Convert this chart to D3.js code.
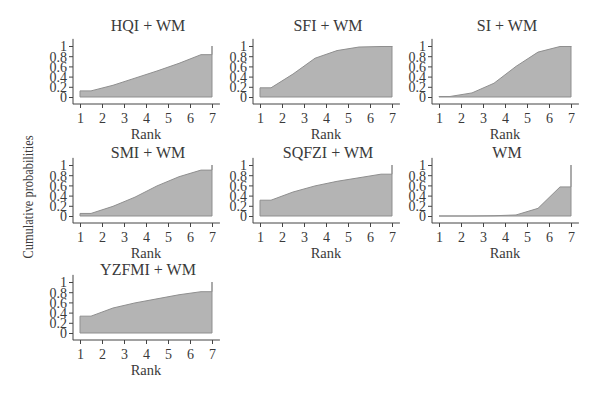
<!DOCTYPE html>
<html>
<head>
<meta charset="utf-8">
<script src="https://cdn.jsdelivr.net/npm/d3@7"></script>
<style>
  body { margin: 0; background: #fff; }
  svg text { font-family: "Liberation Serif", "DejaVu Serif", serif; fill: #3a3a3a; }
</style>
</head>
<body>
<div id="chart"></div>
<script>
// Treatments, in panel order
var treatments = ['HQI + WM', 'SFI + WM', 'SI + WM', 'SMI + WM', 'SQFZI + WM', 'WM', 'YZFMI + WM'];

// Cumulative probabilities for ranks 1..6 (rank 7 is always 1)
var cumHQI   = [0.12, 0.23, 0.37, 0.51, 0.66, 0.83];
var cumSFI   = [0.18, 0.45, 0.76, 0.91, 0.98, 0.99];
var cumSI    = [0.01, 0.08, 0.27, 0.60, 0.88, 0.99];
var cumSMI   = [0.05, 0.19, 0.37, 0.59, 0.77, 0.90];
var cumSQFZI = [0.31, 0.47, 0.59, 0.68, 0.75, 0.82];
var cumWM    = [0.00, 0.00, 0.005, 0.02, 0.15, 0.57];
var cumYZFMI = [0.33, 0.49, 0.59, 0.67, 0.75, 0.81];

var seriesList = [cumHQI, cumSFI, cumSI, cumSMI, cumSQFZI, cumWM, cumYZFMI];

var rankTicks = [1, 2, 3, 4, 5, 6, 7];
var probTicks = [0, 0.2, 0.4, 0.6, 0.8, 1];

var width = 600, height = 398;
var colX = [80, 260, 439];      // pixel position of rank 1 in each column
var rowY = [97, 216, 333];      // pixel position of prob 0 in each row
var titleOff = [66, 58, 58];    // title baseline above prob 0, per row
var plotW = 132, plotH = 51;

var svg = d3.select('#chart').append('svg')
    .attr('width', width)
    .attr('height', height);

svg.append('text')
    .attr('transform', 'translate(33,197) rotate(-90)')
    .attr('text-anchor', 'middle')
    .attr('textLength', 123)
    .attr('lengthAdjust', 'spacingAndGlyphs')
    .style('font-size', '14.5px')
    .text('Cumulative probabilities');

// build the drawn points for one treatment: flat start, midpoints, flat end, jump to 1
function toPoints(cum) {
  var pts = [{x: 1, y: cum[0]}, {x: 1.5, y: cum[0]}];
  for (var i = 1; i < cum.length; i++) pts.push({x: i + 1.5, y: cum[i]});
  pts.push({x: 7, y: cum[cum.length - 1]});
  pts.push({x: 7, y: 1});
  return pts;
}

treatments.forEach(function(name, k) {
  var col = k % 3, row = Math.floor(k / 3);
  var x0 = colX[col], y0 = rowY[row];

  var xScale = d3.scaleLinear().domain([1, 7]).range([x0, x0 + plotW]);
  var yScale = d3.scaleLinear().domain([0, 1]).range([y0, y0 - plotH]);

  var g = svg.append('g');

  var pts = toPoints(seriesList[k]);

  var area = d3.area()
      .x(function(d) { return xScale(d.x); })
      .y0(yScale(0))
      .y1(function(d) { return yScale(d.y); });

  g.append('path')
      .datum(pts)
      .attr('d', area)
      .attr('fill', '#b4b4b4')
      .attr('stroke', '#8f8f8f')
      .attr('stroke-width', 1);

  // y axis
  var yAxis = d3.axisLeft(yScale)
      .tickValues(probTicks)
      .tickSize(4)
      .tickPadding(2)
      .tickFormat(function(d) { return d3.format('~g')(d); });
  var ya = g.append('g')
      .attr('transform', 'translate(' + (x0 - 7) + ',0)')
      .call(yAxis);
  ya.select('.domain').remove();
  ya.append('line')
      .attr('x1', 0).attr('x2', 0)
      .attr('y1', yScale(1.14)).attr('y2', yScale(-0.14))
      .attr('stroke', '#444');
  ya.selectAll('.tick line').attr('stroke', '#444');
  ya.selectAll('.tick text')
      .attr('fill', '#3a3a3a')
      .style('font-size', '14px')
      .attr('dy', '0.35em');

  // x axis
  var xAxis = d3.axisBottom(xScale)
      .tickValues(rankTicks)
      .tickSize(4)
      .tickPadding(5)
      .tickFormat(d3.format('d'));
  var xa = g.append('g')
      .attr('transform', 'translate(0,' + (y0 + 7) + ')')
      .call(xAxis);
  xa.select('.domain').remove();
  xa.append('line')
      .attr('x1', xScale(0.68)).attr('x2', xScale(7.36))
      .attr('y1', 0).attr('y2', 0)
      .attr('stroke', '#444');
  xa.selectAll('.tick line').attr('stroke', '#444');
  xa.selectAll('.tick text')
      .attr('fill', '#3a3a3a')
      .style('font-size', '14px');

  g.append('text')
      .attr('x', xScale(4))
      .attr('y', y0 + 42)
      .attr('text-anchor', 'middle')
      .style('font-size', '14.5px')
      .text('Rank');

  g.append('text')
      .attr('x', xScale(4) + 2)
      .attr('y', y0 - titleOff[row])
      .attr('text-anchor', 'middle')
      .style('font-size', '16px')
      .text(name);
});
</script>
</body>
</html>
